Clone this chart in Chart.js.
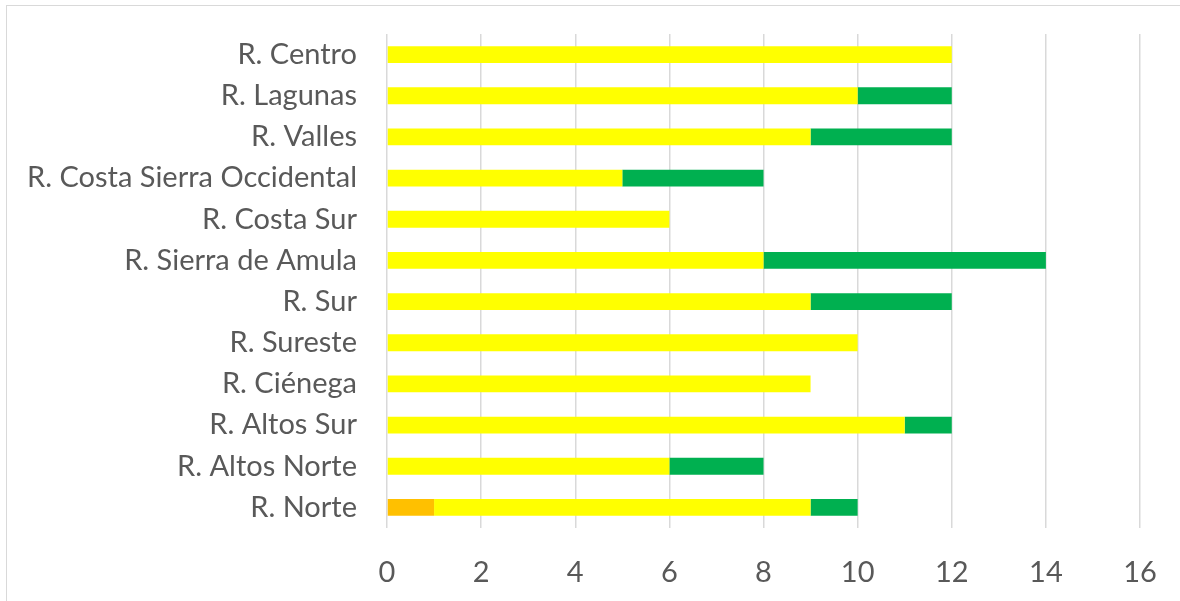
<!DOCTYPE html>
<html><head><meta charset="utf-8">
<script src="https://cdn.jsdelivr.net/npm/chart.js@4"></script>
<style>
html,body{margin:0;padding:0;background:#fff;}
#wrap{position:relative;width:1180px;height:601px;overflow:hidden;}
#frame{position:absolute;left:6px;top:5px;width:1200px;height:620px;border:1.5px solid #d9d9d9;box-sizing:border-box;}
canvas{position:absolute;left:0;top:0;}
</style></head>
<body><div id="wrap"><div id="frame"></div><canvas id="c" width="1180" height="601"></canvas></div>
<script>
const categories = ["R. Centro","R. Lagunas","R. Valles","R. Costa Sierra Occidental","R. Costa Sur","R. Sierra de Amula","R. Sur","R. Sureste","R. Ciénega","R. Altos Sur","R. Altos Norte","R. Norte"];
const orangeValues = [0,0,0,0,0,0,0,0,0,0,0,1];
const yellowValues = [12,10,9,5,6,8,9,10,9,11,6,8];
const greenValues  = [0,2,3,3,0,6,3,0,0,1,2,1];
const xTicks = [0,2,4,6,8,10,12,14,16];

const font = "Lato, 'Open Sans', sans-serif";
new Chart(document.getElementById('c'), {
  type: 'bar',
  data: {
    labels: categories,
    datasets: [
      {label:'Naranja', data: orangeValues, backgroundColor:'#FFC000', barPercentage:0.41, categoryPercentage:1},
      {label:'Amarillo', data: yellowValues, backgroundColor:'#FFFF00', barPercentage:0.41, categoryPercentage:1},
      {label:'Verde', data: greenValues, backgroundColor:'#00B050', barPercentage:0.41, categoryPercentage:1}
    ]
  },
  options: {
    indexAxis:'y', responsive:false, animation:false,
    layout:{padding:{top:34,right:40,bottom:0,left:0}},
    plugins:{legend:{display:false}, tooltip:{enabled:false}},
    scales:{
      x:{stacked:true, min:0, max:16,
        afterBuildTicks:(s)=>{s.ticks = xTicks.map(v=>({value:v}));},
        afterFit:(s)=>{s.height = 73; s.paddingLeft = 0; s.paddingRight = 0;},
        grid:{color:'#d9d9d9', lineWidth:1.5, drawTicks:false},
        border:{display:false},
        ticks:{padding:27, color:'#595959', font:{family:font,size:29}}
      },
      y:{stacked:true,
        afterFit:(s)=>{s.width = 387; s.paddingTop = 0; s.paddingBottom = 0;},
        grid:{display:false, drawTicks:false},
        border:{display:false},
        ticks:{padding:30, color:'#595959', font:{family:font,size:29}}
      }
    }
  }
});
</script></body></html>
